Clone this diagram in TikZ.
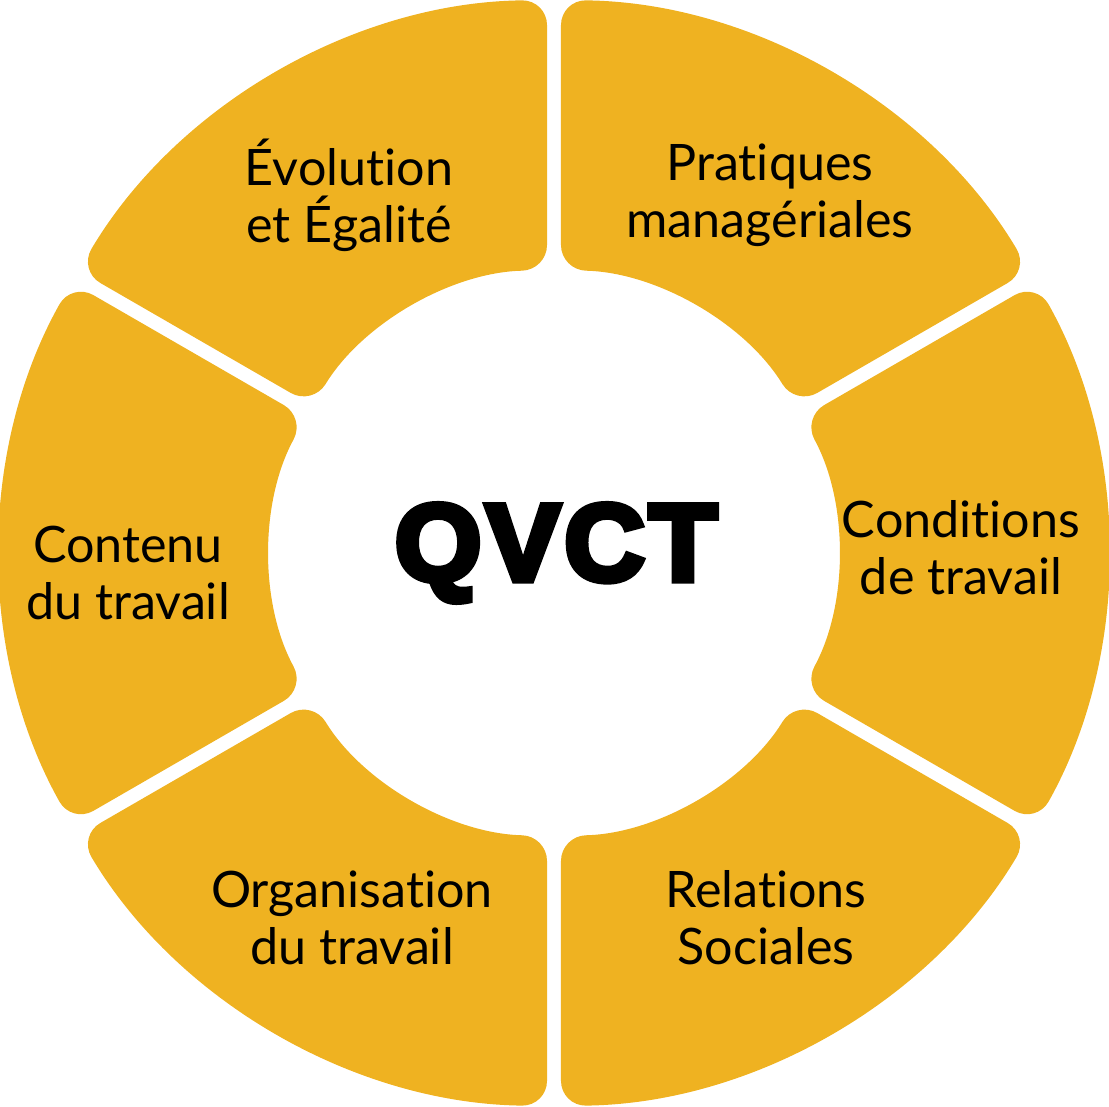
\documentclass[tikz,border=0pt]{standalone}
\usepackage{fontspec}
\setmainfont{Lato}[Ligatures=NoCommon]
\newfontfamily\heavyfont{Liberation Sans Bold}[FakeBold=6, LetterSpace=4]
\usepackage{tikz}
\definecolor{qvctgold}{HTML}{EFB221}

\begin{document}
\begin{tikzpicture}[
    segment/.style={fill=qvctgold, rounded corners=0.25cm},
    theme/.style={align=center, inner sep=0pt, text=black,
      font=\fontsize{14.3}{16.2}\selectfont}]
  \useasboundingbox (-5.54,-5.54) rectangle (5.55,5.53);
  % six ring segments, gaps at 30, 90, 150, ...
  \foreach \c in {0,60,...,300} {
    \fill[segment] ({\c-29.275}:5.53)
      arc[start angle=\c-29.275, end angle=\c+29.275, radius=5.53]
      -- ({\c+28.583}:2.83)
      arc[start angle=\c+28.583, end angle=\c-28.583, radius=2.83]
      -- cycle;
  }
  \node[theme] (evolution) at (-2.05,3.58) {Évolution\\et Égalité};
  \node[theme] (pratiques) at (2.16,3.58) {Pratiques\\managériales};
  \node[theme] (conditions) at (4.07,0.05) {Conditions\\de travail};
  \node[theme] (relations) at (2.12,-3.65) {Relations\\Sociales};
  \node[theme] (organisation) at (-2.02,-3.65) {Organisation\\du travail};
  \node[theme] (contenu) at (-4.26,-0.20) {Contenu\\du travail};
  \node[inner sep=0pt, xscale=1.02, font=\heavyfont\fontsize{31}{31}\selectfont] (qvct) at (0.02,0) {QVCT};
\end{tikzpicture}
\end{document}
